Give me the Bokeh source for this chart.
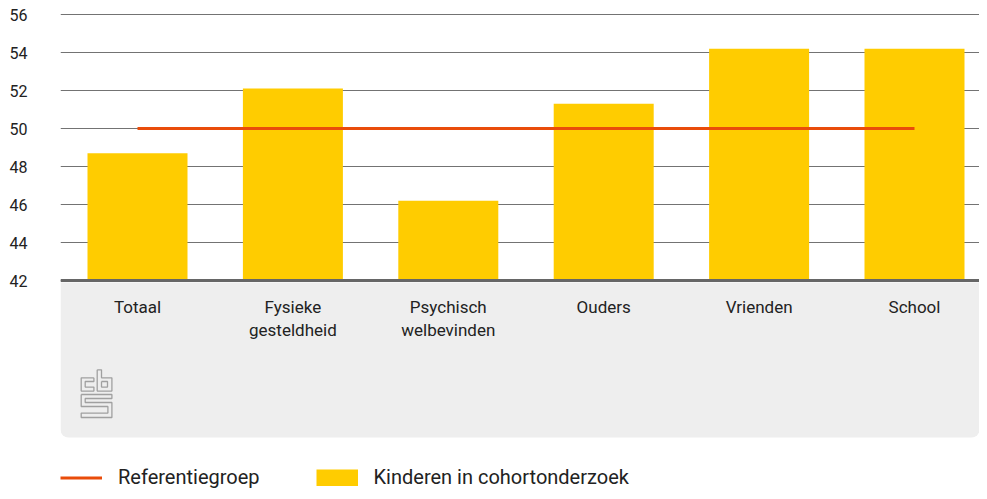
from bokeh.plotting import figure
from bokeh.models import Range1d, FixedTicker, Span, Legend, LegendItem, ColumnDataSource
from bokeh.core.properties import value
from bokeh.embed import file_html
from bokeh.resources import INLINE

# ---------------- data ----------------
categories = ["Totaal", "Fysieke\ngesteldheid", "Psychisch\nwelbevinden", "Ouders", "Vrienden", "School"]
kinderen = [48.7, 52.1, 46.2, 51.3, 54.2, 54.2]
referentie = [50, 50, 50, 50, 50, 50]
y_ticks = [42, 44, 46, 48, 50, 52, 54, 56]
baseline = 42

# ---------------- layout ----------------
W, H = 979, 491
LEFT = 60
PX_PER_CAT = 155.4
PX_PER_UNIT = 19.0
AXIS_PX = 280  # canvas y of the baseline

x_start = -(137 - LEFT) / PX_PER_CAT
x_end = x_start + (W - LEFT) / PX_PER_CAT
y_end = baseline + AXIS_PX / PX_PER_UNIT
y_start = baseline - (H - AXIS_PX) / PX_PER_UNIT


def dx(px):
    return x_start + (px - LEFT) / PX_PER_CAT


def dy(py):
    return y_end - py / PX_PER_UNIT


FONT = "Roboto"
TXT = "#222222"

p = figure(width=W, height=H, output_backend="svg", toolbar_location=None,
           x_range=Range1d(x_start, x_end), y_range=Range1d(y_start, y_end),
           x_axis_location=None, min_border_left=LEFT, min_border_right=0,
           min_border_top=0, min_border_bottom=0)
p.outline_line_color = None
p.background_fill_color = "white"
p.border_fill_color = "white"

# y axis
p.yaxis.ticker = FixedTicker(ticks=y_ticks)
p.yaxis.axis_line_color = None
p.yaxis.major_tick_line_color = None
p.yaxis.minor_tick_line_color = None
p.yaxis.major_label_standoff = 27
p.yaxis.major_label_text_font = FONT
p.yaxis.major_label_text_font_size = "16px"
p.yaxis.major_label_text_color = TXT

p.xgrid.visible = False
p.ygrid.ticker = FixedTicker(ticks=y_ticks)
p.ygrid.grid_line_color = "#737373"
p.ygrid.grid_line_width = 1

# grey label panel
p.quad(left=x_start, right=x_end, top=dy(282), bottom=dy(437),
       fill_color="#eeeeee", line_color=None, border_radius=(0, 0, 8, 8))

idx = list(range(len(categories)))
src = ColumnDataSource(dict(x=idx, top=kinderen, cat=categories))

bars = p.vbar(x="x", top="top", bottom=baseline, width=100 / PX_PER_CAT, source=src,
              fill_color="#ffcc00", line_color=None)

ref_line = p.line(x=idx, y=referentie, line_color="#e94c0a", line_width=3)

p.add_layout(Span(location=baseline, dimension="width", line_color="#666666", line_width=3))

# category labels
p.text(x="x", y=dy(296), text="cat", source=src, text_align="center", text_baseline="top",
       text_font=value(FONT), text_font_size="17px", text_color=TXT, text_line_height=1.15)

# cbs logo (decoration), local pixel outlines
logo_paths = [
    [(12.7, 8), (0, 8), (0, 21.3), (12.7, 21.3), (12.7, 17.3), (4, 17.3), (4, 11.7), (12.7, 11.7), (12.7, 8)],
    [(16, 0), (20.3, 0), (20.3, 8), (30.7, 8), (30.7, 21.3), (16, 21.3), (16, 0)],
    [(20.3, 11.7), (26.3, 11.7), (26.3, 17.3), (20.3, 17.3), (20.3, 11.7)],
    [(0, 24.7), (30.7, 24.7), (30.7, 28.7), (4, 28.7), (4, 32.7), (30.7, 32.7), (30.7, 47.7),
     (0, 47.7), (0, 43.3), (26.7, 43.3), (26.7, 36.7), (0, 36.7), (0, 24.7)],
]
LX, LY = 80.7, 369.3
p.multi_line(xs=[[dx(LX + u) for u, v in path] for path in logo_paths],
             ys=[[dy(LY + v) for u, v in path] for path in logo_paths],
             line_color="#a0a0a0", line_width=1.3)

# legend swatch for the bars (proxy with no visible points, drawn only in the legend)
nan = float("nan")
bar_swatch = p.line(x=[nan, nan], y=[nan, nan], line_color="#ffcc00", line_width=17, line_cap="butt")

legend = Legend(items=[LegendItem(label="Referentiegroep", renderers=[ref_line]),
                       LegendItem(label="Kinderen in cohortonderzoek", renderers=[bar_swatch])],
                orientation="horizontal", location=(0, 2), glyph_width=42, glyph_height=17,
                label_standoff=16, spacing=56, padding=0, margin=0,
                border_line_color=None, background_fill_alpha=0,
                label_text_font=FONT, label_text_font_size="20px", label_text_color=TXT)
p.add_layout(legend)

open("out.html", "w").write(file_html(p, INLINE))
